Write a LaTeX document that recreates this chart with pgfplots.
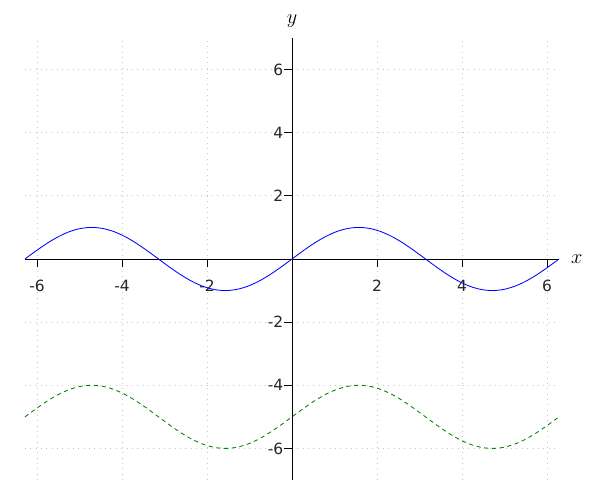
\documentclass[border=0pt]{standalone}
\usepackage{fontspec}
\setmainfont{DejaVu Sans}
\usepackage{pgfplots}
\pgfplotsset{compat=1.18}

\begin{document}
\begin{tikzpicture}
\begin{axis}[
    scale only axis,
    width=13.35cm, height=11.05cm,
    xmin=-6.2832, xmax=6.2832,
    ymin=-7, ymax=7,
    axis lines=middle,
    axis line style={-, black, line width=0.6pt},
    xtick={-6,-4,-2,2,4,6},
    xticklabels={-6,-4,-2,2,4,6},
    ytick={-6,-4,-2,2,4,6},
    yticklabels={-6,-4,-2,2,4,6},
    xtick pos=left, ytick pos=left,
    tick align=outside,
    major tick length=0.2cm,
    every tick/.style={black, line width=0.6pt},
    % ticks are drawn at the box edge: move them onto the centred axis lines
    xtick style={yshift=5.525cm},
    ytick style={xshift=6.675cm},
    ticklabel style={font=\fontsize{11}{13}\selectfont, text=black!85},
    xticklabel style={yshift=-6pt},
    yticklabel style={xshift=3pt},
    grid=major,
    grid style={gray!45, line width=0.5pt, dash pattern=on 0.6pt off 3.2pt},
    xlabel={$x$}, ylabel={$y$},
    xlabel style={at={(rel axis cs:1,0.5)}, anchor=west, xshift=5pt, font=\Large},
    ylabel style={at={(rel axis cs:0.5,1)}, anchor=south, yshift=4pt, font=\Large},
    clip=false,
]
\addplot[blue, line width=0.6pt, smooth] coordinates {
(-6.2832,0) (-6.0214,0.2588) (-5.7596,0.5) (-5.4978,0.7071) (-5.2360,0.8660)
(-4.9742,0.9659) (-4.7124,1) (-4.4506,0.9659) (-4.1888,0.8660) (-3.9270,0.7071)
(-3.6652,0.5) (-3.4034,0.2588) (-3.1416,0) (-2.8798,-0.2588) (-2.6180,-0.5)
(-2.3562,-0.7071) (-2.0944,-0.8660) (-1.8326,-0.9659) (-1.5708,-1) (-1.3090,-0.9659)
(-1.0472,-0.8660) (-0.7854,-0.7071) (-0.5236,-0.5) (-0.2618,-0.2588) (0,0)
(0.2618,0.2588) (0.5236,0.5) (0.7854,0.7071) (1.0472,0.8660) (1.3090,0.9659)
(1.5708,1) (1.8326,0.9659) (2.0944,0.8660) (2.3562,0.7071) (2.6180,0.5)
(2.8798,0.2588) (3.1416,0) (3.4034,-0.2588) (3.6652,-0.5) (3.9270,-0.7071)
(4.1888,-0.8660) (4.4506,-0.9659) (4.7124,-1) (4.9742,-0.9659) (5.2360,-0.8660)
(5.4978,-0.7071) (5.7596,-0.5) (6.0214,-0.2588) (6.2832,0)
};
\addplot[green!50!black, line width=0.6pt, dash pattern=on 3pt off 2.5pt, smooth] coordinates {
(-6.2832,-5) (-6.0214,-4.7412) (-5.7596,-4.5) (-5.4978,-4.2929) (-5.2360,-4.1340)
(-4.9742,-4.0341) (-4.7124,-4) (-4.4506,-4.0341) (-4.1888,-4.1340) (-3.9270,-4.2929)
(-3.6652,-4.5) (-3.4034,-4.7412) (-3.1416,-5) (-2.8798,-5.2588) (-2.6180,-5.5)
(-2.3562,-5.7071) (-2.0944,-5.8660) (-1.8326,-5.9659) (-1.5708,-6) (-1.3090,-5.9659)
(-1.0472,-5.8660) (-0.7854,-5.7071) (-0.5236,-5.5) (-0.2618,-5.2588) (0,-5)
(0.2618,-4.7412) (0.5236,-4.5) (0.7854,-4.2929) (1.0472,-4.1340) (1.3090,-4.0341)
(1.5708,-4) (1.8326,-4.0341) (2.0944,-4.1340) (2.3562,-4.2929) (2.6180,-4.5)
(2.8798,-4.7412) (3.1416,-5) (3.4034,-5.2588) (3.6652,-5.5) (3.9270,-5.7071)
(4.1888,-5.8660) (4.4506,-5.9659) (4.7124,-6) (4.9742,-5.9659) (5.2360,-5.8660)
(5.4978,-5.7071) (5.7596,-5.5) (6.0214,-5.2588) (6.2832,-5)
};
\end{axis}
\path ([shift={(-0.625cm,-0.5cm)}]current axis.south west) rectangle +(15cm,12.5cm);
\end{tikzpicture}
\end{document}
